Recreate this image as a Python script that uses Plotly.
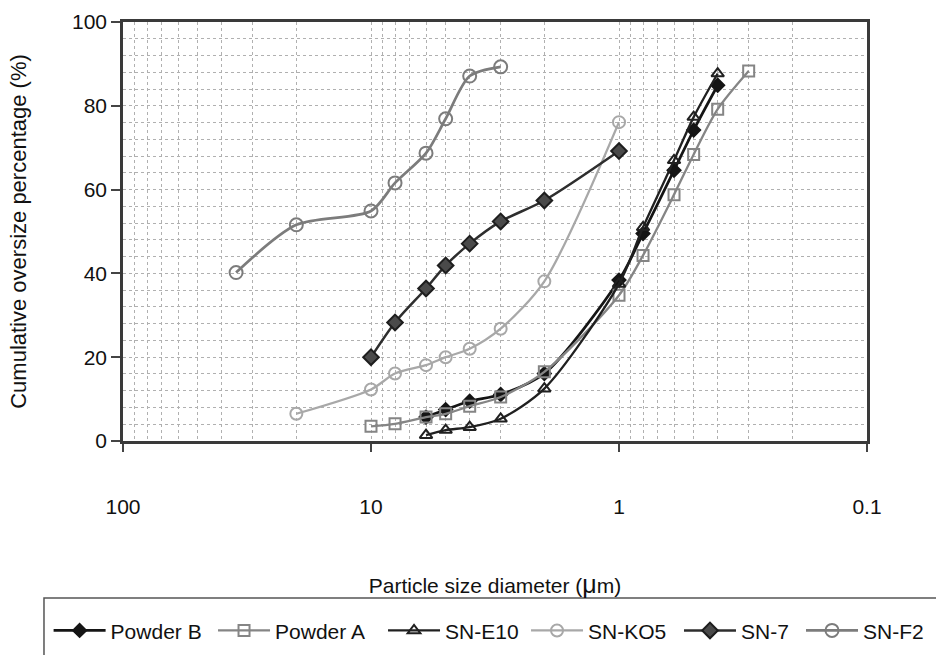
import plotly.graph_objects as go

# ---- data ----
powder_b_x = [6, 5, 4, 3, 2, 1, 0.8, 0.6, 0.5, 0.4]
powder_b_y = [5.7, 7.5, 9.5, 11.1, 16.1, 38.4, 49.5, 64.6, 74.2, 84.9]

powder_a_x = [10, 8, 6, 5, 4, 3, 2, 1, 0.8, 0.6, 0.5, 0.4, 0.3]
powder_a_y = [3.5, 4.1, 5.7, 6.5, 8.3, 10.5, 16.5, 34.8, 44.3, 58.8, 68.4, 79.2, 88.3]

sn_e10_x = [6, 5, 4, 3, 2, 1, 0.8, 0.6, 0.5, 0.4]
sn_e10_y = [1.4, 2.6, 3.3, 5.3, 12.5, 37.5, 51.0, 67.0, 77.3, 87.7]

sn_ko5_x = [20, 10, 8, 6, 5, 4, 3, 2, 1]
sn_ko5_y = [6.5, 12.3, 16.1, 18.1, 20.0, 22.0, 26.8, 38.1, 76.1]

sn_7_x = [10, 8, 6, 5, 4, 3, 2, 1]
sn_7_y = [20.0, 28.3, 36.4, 41.9, 47.1, 52.4, 57.4, 69.2]

sn_f2_x = [35, 20, 10, 8, 6, 5, 4, 3]
sn_f2_y = [40.2, 51.6, 54.9, 61.6, 68.7, 76.9, 87.1, 89.3]

series_names = ["Powder B", "Powder A", "SN-E10", "SN-KO5", "SN-7", "SN-F2"]

x_tick_vals = [100, 10, 1, 0.1]
x_tick_text = ["100", "10", "1", "0.1"]
y_tick_vals = [0, 20, 40, 60, 80, 100]

FONT = "Arial, Liberation Sans, sans-serif"

styles = [
    ("#151515", 2.7, "diamond", 10, "#151515", "#151515"),
    ("#858585", 2.3, "square-open", 11, "#858585", "#858585"),
    ("#202020", 2.3, "triangle-up-open", 11, "#202020", "#202020"),
    ("#a8a8a8", 2.3, "circle-open", 12, "#a8a8a8", "#a8a8a8"),
    ("#2e2e2e", 2.5, "diamond", 12, "#4a4a4a", "#1e1e1e"),
    ("#7c7c7c", 2.7, "circle-open", 13, "#7c7c7c", "#7c7c7c"),
]
data = [
    (powder_b_x, powder_b_y), (powder_a_x, powder_a_y), (sn_e10_x, sn_e10_y),
    (sn_ko5_x, sn_ko5_y), (sn_7_x, sn_7_y), (sn_f2_x, sn_f2_y),
]

# one legend per entry, so the entries can sit where the reference has them
legend_ids = ["legend", "legend2", "legend3", "legend4", "legend5", "legend6"]
legend_x = [-0.1000, 0.1210, 0.3495, 0.5417, 0.7473, 0.9113]

fig = go.Figure()
for name, (xs, ys), (lc, lw, sym, ms, mfill, mline), lid in zip(series_names, data, styles, legend_ids):
    fig.add_trace(go.Scatter(
        x=xs, y=ys, name=name, mode="lines+markers", legend=lid,
        line=dict(color=lc, width=lw, shape="spline", smoothing=0.8),
        marker=dict(symbol=sym, size=ms, color=mfill,
                    line=dict(color=mline, width=2)),
    ))

# legend frame (layout decoration)
fig.add_shape(type="rect", xref="paper", yref="paper",
              x0=-0.1062, x1=1.12, y0=-0.65, y1=-0.3747,
              line=dict(color="#555555", width=1.5), fillcolor="rgba(0,0,0,0)",
              layer="above")

legend_common = dict(orientation="h", y=-0.404, xanchor="left", yanchor="top",
                     font=dict(family=FONT, size=21, color="#111111"),
                     bgcolor="rgba(0,0,0,0)", borderwidth=0, itemwidth=52)
legend_layout = {lid: dict(x=lx, **legend_common) for lid, lx in zip(legend_ids, legend_x)}

fig.update_layout(
    width=936, height=655,
    margin=dict(l=123, r=69, t=22, b=214, autoexpand=False),
    paper_bgcolor="white", plot_bgcolor="white",
    font=dict(family=FONT, size=21, color="#111111"),
    showlegend=True,
    **legend_layout,
    xaxis=dict(
        type="log", range=[2, -1], autorange=False,
        tickvals=x_tick_vals, ticktext=x_tick_text,
        ticks="outside", ticklen=8, tickwidth=1.5, tickcolor="#444444",
        ticklabelstandoff=37,
        tickfont=dict(family=FONT, size=21, color="#111111"),
        showgrid=True, gridcolor="#b0b0b0", gridwidth=1, griddash="dot",
        minor=dict(dtick="D1", showgrid=True, gridcolor="#b0b0b0", gridwidth=1,
                   griddash="dot", ticks=""),
        showline=True, linecolor="#3a3a3a", linewidth=2.5, mirror=True,
        zeroline=False,
        title=dict(text="Particle size diameter (<span style='font-size:25px'>μ</span>m)",
                   font=dict(family=FONT, size=21, color="#111111"), standoff=62),
    ),
    yaxis=dict(
        range=[0, 100], autorange=False,
        tickvals=y_tick_vals,
        ticks="outside", ticklen=9, tickwidth=1.5, tickcolor="#444444",
        tickfont=dict(family=FONT, size=21, color="#111111"),
        showgrid=True, gridcolor="#b0b0b0", gridwidth=1, griddash="dot",
        minor=dict(dtick=4, tick0=0, showgrid=True, gridcolor="#b0b0b0",
                   gridwidth=1, griddash="dot", ticks=""),
        showline=True, linecolor="#3a3a3a", linewidth=2.5, mirror=True,
        zeroline=False,
        title=dict(text="Cumulative oversize percentage (%)",
                   font=dict(family=FONT, size=22, color="#111111"), standoff=40),
    ),
)

fig.write_html("out.html")
